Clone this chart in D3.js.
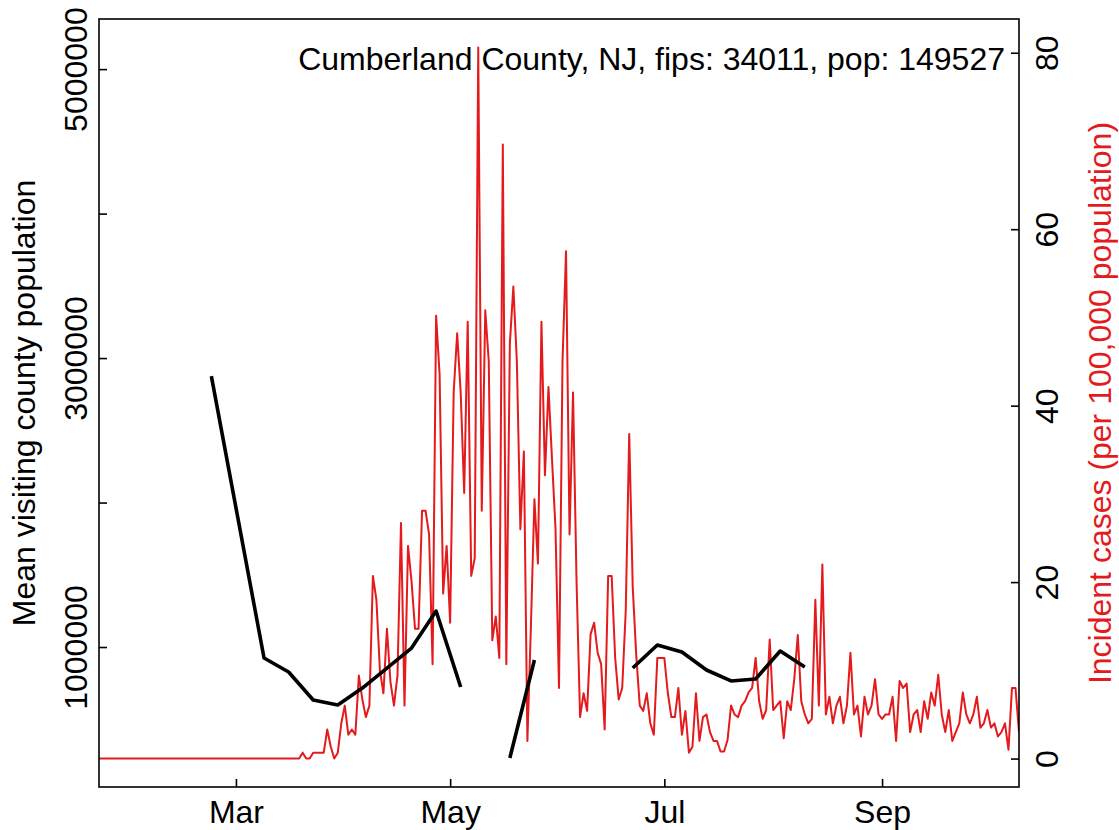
<!DOCTYPE html>
<html><head><meta charset="utf-8">
<script src="https://cdn.jsdelivr.net/npm/d3@7"></script>
<style>
body{margin:0;background:#fff}
svg{display:block}
text{font-family:"Liberation Sans",Arial,Helvetica,sans-serif}
</style>
</head><body>
<svg id="chart" width="1119" height="830"></svg>
<script>
const chartTitle = "Cumberland County, NJ, fips: 34011, pop: 149527";
const leftTitle = "Mean visiting county population";
const rightTitle = "Incident cases (per 100,000 population)";

const incidenceStart = "2020-01-22";
const incidence = [
0,0,0,0,0,0,0,0,0,0,0,0,0,0,0,0,0,0,0,0,0,0,0,0,0,0,0,0,0,0,
0,0,0,0,0,0,0,0,0,0,0,0,0,0,0,0,0,0,0,0,0,0,0,0,0,0,0,0,
0.67,0,0,0.67,0.67,0.67,0.67,3.3,1.34,0,0.67,4.0,6.0,2.7,
3.3,2.7,9.4,6.7,4.7,6.0,20.7,18.0,10.0,7.4,14.7,8.7,6.0,9.4,
26.7,6.0,24.1,20.1,14.7,14.7,28.1,28.1,25.4,10.7,50.2,43.5,18.7,24.1,
15.4,41.5,48.2,41.5,30.1,49.5,20.7,22.7,80.6,28.1,50.8,45,13.4,16.1,
11.4,69.6,10.7,47,53.5,45,26,34.8,2.0,15,29.4,22.1,49.5,32.1,
42.1,34,26.1,8.0,45,57.5,25.4,41.5,20,4.7,7.4,5.4,14.1,15.4,
12.0,10.7,3.3,20.7,20.7,11.4,6.7,8.0,16.7,36.8,19.4,11.7,6.0,5.4,
7.4,4.0,2.7,11.4,11.4,11.4,7.4,4.7,4.7,8.0,2.7,5.4,0.67,1.34,7.4,2.0,
4.7,5,3,2,2,0.8,0.8,2.1,6,5,4.7,6,6.5,7.5,8,11.4,6.5,4.5,5.5,13.5,
5.5,6,6.5,2.3,6.5,5.5,9,14,6.5,5,4,4.5,18,6,22,5,7,4,6,7,
4,6,12,5,6,2.5,7,5,6,9,5,4.5,5,5,7,2,8.8,8,8.5,3,
5,5.5,3,6.5,4.5,7.5,6,9.5,5,3,5.5,2,3,4,7.5,5,4,5,7,3.5,
4,5.5,3.5,4,2.5,3,4,1,8,8,3
];

const mobilityDates = ["2020-02-23","2020-03-09","2020-03-16","2020-03-23","2020-03-30","2020-04-06",
  "2020-04-13","2020-04-20","2020-04-27","2020-05-04","2020-05-11","2020-05-18","2020-05-25",
  "2020-06-01","2020-06-08","2020-06-15","2020-06-22","2020-06-29","2020-07-06","2020-07-13",
  "2020-07-20","2020-07-27","2020-08-03","2020-08-10"];
const mobility = [2875000,924000,827000,633000,599000,716000,854000,993000,1249000,723000,
  null,232000,910000,null,null,null,855000,1014000,965000,841000,765000,779000,972000,862000];

const xTickDates = ["2020-03-01","2020-05-01","2020-07-01","2020-09-01"];
const xTickLabels = ["Mar","May","Jul","Sep"];
const leftTicks = [1000000,2000000,3000000,4000000,5000000];
const leftTickLabels = ["1000000","","3000000","","5000000"];
const rightTicks = [0,20,40,60,80];
const leftLimits = [228000, 5150000];

const RED = "#e41a1c";
const FS = 32;
const box = {l: 99, r: 1019, t: 19, b: 787};

const svg = d3.select("#chart");
const start = new Date(incidenceStart);
const red = incidence.map((v, i) => ({date: d3.utcDay.offset(start, i), v}));
const blk = mobilityDates.map((d, i) => ({date: new Date(d), v: mobility[i]}));

const x = d3.scaleUtc().domain([red[0].date, red[red.length - 1].date]).range([box.l, box.r]);

function padded(lo, hi) { const p = (hi - lo) * 0.04; return [lo - p, hi + p]; }
const yL = d3.scaleLinear().domain(padded(leftLimits[0], leftLimits[1])).range([box.b, box.t]);
const yR = d3.scaleLinear().domain(padded(0, d3.max(incidence))).range([box.b, box.t]);

svg.append("clipPath").attr("id", "clipbox")
  .append("rect").attr("x", box.l).attr("y", box.t).attr("width", box.r - box.l).attr("height", box.b - box.t);

// red incidence line
svg.append("path").datum(red)
  .attr("clip-path", "url(#clipbox)")
  .attr("fill", "none").attr("stroke", RED).attr("stroke-width", 2).attr("stroke-linejoin", "round")
  .attr("d", d3.line().x(d => x(d.date)).y(d => yR(d.v)));

// black mobility line
svg.append("path").datum(blk)
  .attr("fill", "none").attr("stroke", "#000").attr("stroke-width", 3.6).attr("stroke-linejoin", "round")
  .attr("d", d3.line().defined(d => d.v !== null).x(d => x(d.date)).y(d => yL(d.v)));

// box
svg.append("rect").attr("x", box.l).attr("y", box.t).attr("width", box.r - box.l).attr("height", box.b - box.t)
  .attr("fill", "none").attr("stroke", "#000").attr("stroke-width", 1.6);

function styleAxis(g) {
  g.select(".domain").remove();
  g.selectAll(".tick line").attr("stroke", "#000").attr("stroke-width", 1.6);
  g.selectAll("text").attr("fill", "#000").attr("font-size", FS).attr("font-family", "Liberation Sans, Arial, sans-serif");
}

// bottom axis
const gx = svg.append("g").attr("transform", `translate(0,${box.b})`)
  .call(d3.axisBottom(x).tickValues(xTickDates.map(d => new Date(d)))
    .tickFormat((d, i) => xTickLabels[i]).tickSizeInner(-8).tickSizeOuter(0));
styleAxis(gx);
gx.selectAll("text").attr("y", 36).attr("dy", null);

// left axis
const gl = svg.append("g").attr("transform", `translate(${box.l},0)`)
  .call(d3.axisLeft(yL).tickValues(leftTicks).tickFormat((d, i) => leftTickLabels[i])
    .tickSizeInner(-8).tickSizeOuter(0));
styleAxis(gl);
gl.selectAll("text").attr("x", null).attr("dy", null)
  .attr("text-anchor", "middle").attr("transform", "translate(-12,0) rotate(-90)");

// right axis
const gr = svg.append("g").attr("transform", `translate(${box.r},0)`)
  .call(d3.axisRight(yR).tickValues(rightTicks).tickFormat(d3.format("d"))
    .tickSizeInner(-8).tickSizeOuter(0));
styleAxis(gr);
gr.selectAll("text").attr("x", null).attr("dy", null)
  .attr("text-anchor", "middle").attr("transform", "translate(39,0) rotate(-90)");

// titles
svg.append("text").attr("x", 1005).attr("y", 70).attr("text-anchor", "end")
  .attr("font-size", FS).attr("fill", "#000").text(chartTitle);
svg.append("text").attr("transform", `translate(35,${(box.t + box.b) / 2}) rotate(-90)`)
  .attr("text-anchor", "middle").attr("font-size", FS).attr("fill", "#000").text(leftTitle);
svg.append("text").attr("transform", `translate(1111,${(box.t + box.b) / 2}) rotate(-90)`)
  .attr("text-anchor", "middle").attr("font-size", FS).attr("fill", RED).text(rightTitle);
</script>
</body></html>
